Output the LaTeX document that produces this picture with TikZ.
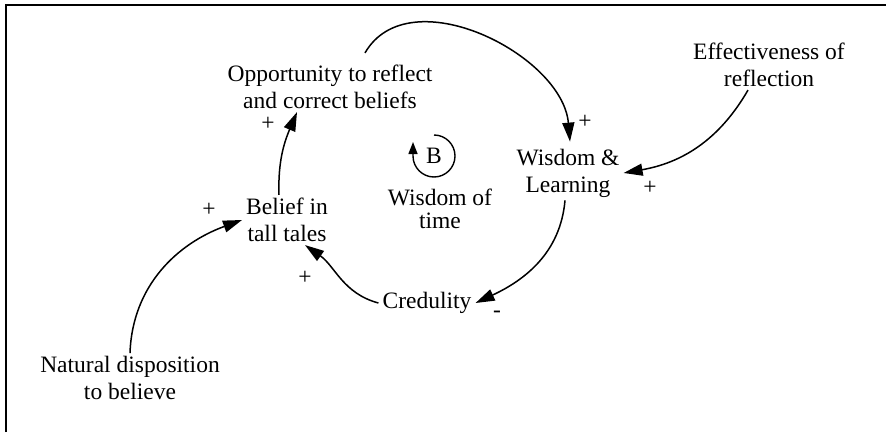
\documentclass[tikz,border=0pt]{standalone}
\usepackage{fontspec}
\setmainfont{Liberation Serif}
\usepackage{tikz}
\usetikzlibrary{arrows.meta,calc}

\begin{document}
\begin{tikzpicture}[x=1pt, y=1pt, font=\fontsize{23.5}{27}\selectfont]
\tikzstyle{v} = [align=center, inner xsep=4pt, inner ysep=3pt]
\tikzstyle{p} = [inner sep=0pt]
\tikzstyle{a} = [line width=1.5pt, -{Triangle[length=19pt,width=12pt]}]
\useasboundingbox (0,0) rectangle (886,432);
\draw [line width=2pt] (6,0) -- (6,427) -- (886,427);
% variables
\node [v] (opp) at (330,345) {Opportunity to reflect\\and correct beliefs};
\node [v] (eff) at (769,367) {Effectiveness of\\reflection};
\node [v] (wis) at (568,259) {Wisdom \&\\Learning};
\node [v] (bel) at (287,212) {Belief in\\tall tales};
\node [v] (cred) at (427,129) {Credulity};
\node [v] (nat) at (130,54) {Natural disposition\\to believe};
% loop marker
\node [p] (loopb) at (434,276) {B};
\node [v] (wot) at (440,223) {Wisdom of\\[-4pt]time};
\draw [line width=1.4pt, -{Triangle[length=12pt,width=9pt]}] ($(loopb)+(0,21)$) arc [start angle=90, end angle=-180, radius=21] -- ++(0,14);
% links
\draw [a] ([shift={(35pt,9pt)}]opp.north) to[out=60, in=95] ([shift={(2pt,4pt)}]wis.north);
\draw [a] ([xshift=-21pt]eff.south) to[out=-120, in=10] (wis.east);
\draw [a] ([xshift=-3pt]wis.south) to[out=-95, in=25] (cred.east);
\draw [a] (cred.west) to[out=165, in=-35] ([xshift=18pt]bel.south);
\draw [a] ([xshift=-8pt]bel.north) to[out=92, in=-113] ([xshift=-33pt]opp.south);
\draw [a] (nat.north) to[out=88, in=200] (bel.west);
% polarities
\node [p] (s1) at (268,308) {+};
\node [p] (s2) at (585,310) {+};
\node [p] (s3) at (650,244) {+};
\node [p] (s4) at (497,118) {-};
\node [p] (s5) at (305,154) {+};
\node [p] (s6) at (209,222) {+};
\end{tikzpicture}
\end{document}
